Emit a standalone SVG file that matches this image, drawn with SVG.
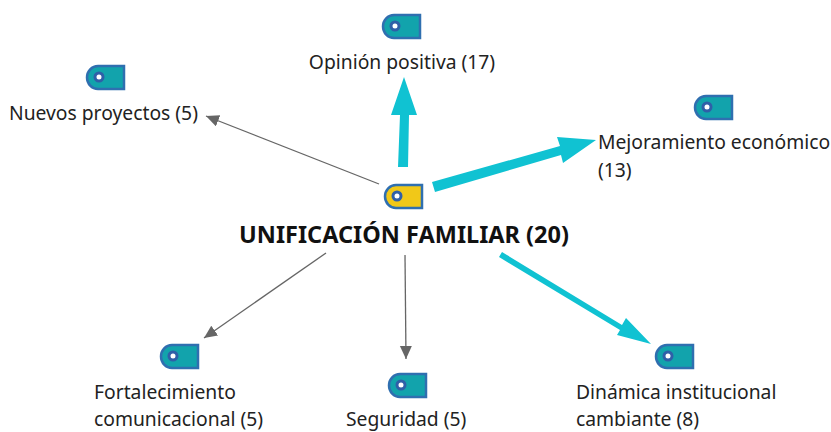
<svg xmlns="http://www.w3.org/2000/svg" width="831" height="432" viewBox="0 0 831 432">
<defs>
<path id="tag" d="M11 0H37V23H11A11 11.500 0 0 1 11 0Z"/>
<marker id="ag" markerUnits="userSpaceOnUse" markerWidth="14" markerHeight="14" refX="13" refY="6" orient="auto"><path d="M0 0L13 6L0 12Z" fill="#666"/></marker>
</defs>
<style>
text{font-family:"Noto Sans","Open Sans",sans-serif;font-size:19.300px;fill:#222}
.t{fill:#12a3ac;stroke:#2f6fb0;stroke-width:2.500}
.y{fill:#f1c818;stroke:#2f6fb0;stroke-width:2.500}
.h{fill:#fff;stroke:#2f5fa8;stroke-width:3}
.g{stroke:#666;stroke-width:1.300;fill:none;marker-end:url(#ag)}
.c{fill:#10c2d2}
</style>
<rect width="831" height="432" fill="#fff"/>
<g id="connectors">
<path class="g" d="M379 184L206 116"/>
<path class="g" d="M326 253L204 338"/>
<path class="g" d="M405 255L406 359"/>
<path class="c" d="M398 167L400 115L391 115L404 77L417 115L409 115L408 167Z"/>
<path class="c" d="M432 182L560 146L557 137L596 140L563 163L561 155L435 192Z"/>
<path class="c" d="M502 252L622 325L626 318L651 344L617 335L620 330L499 257Z"/>
</g>
<g id="n0"><use href="#tag" class="y" x="385" y="185"/><circle class="h" cx="397" cy="196" r="4"/><text x="404" y="243" text-anchor="middle" style="font-weight:700;font-size:23.500px;fill:#111">UNIFICACIÓN FAMILIAR (20)</text></g>
<g id="n1"><use href="#tag" class="t" x="383" y="15"/><circle class="h" cx="395" cy="26" r="4"/><text x="402" y="69" text-anchor="middle">Opinión positiva (17)</text></g>
<g id="n2"><use href="#tag" class="t" x="87" y="66"/><circle class="h" cx="99" cy="77" r="4"/><text x="9" y="120">Nuevos proyectos (5)</text></g>
<g id="n3"><use href="#tag" class="t" x="695" y="96"/><circle class="h" cx="707" cy="107" r="4"/><text x="598" y="149">Mejoramiento económico</text><text x="598" y="177">(13)</text></g>
<g id="n4"><use href="#tag" class="t" x="161" y="345"/><circle class="h" cx="173" cy="356" r="4"/><text x="94" y="399">Fortalecimiento</text><text x="94" y="426">comunicacional (5)</text></g>
<g id="n5"><use href="#tag" class="t" x="389" y="374"/><circle class="h" cx="401" cy="385" r="4"/><text x="346" y="426">Seguridad (5)</text></g>
<g id="n6"><use href="#tag" class="t" x="656" y="345"/><circle class="h" cx="668" cy="356" r="4"/><text x="576" y="399">Dinámica institucional</text><text x="576" y="426">cambiante (8)</text></g>
</svg>
